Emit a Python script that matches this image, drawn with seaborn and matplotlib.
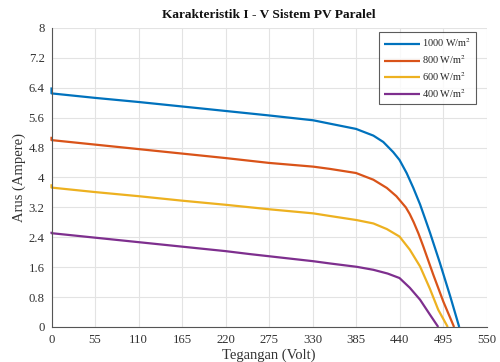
import numpy as np
import pandas as pd
import matplotlib
matplotlib.use("Agg")
import matplotlib.pyplot as plt
import seaborn as sns

# ---- data ----
labels = ["1000 W/m$^2$", "800 W/m$^2$", "600 W/m$^2$", "400 W/m$^2$"]
colors = ["#0072BD", "#D95319", "#EDB120", "#7E2F8E"]

v_1000 = [0, 0, 55, 110, 165, 220, 275, 331, 352, 385, 407, 419.5, 432, 440, 449, 457.5, 466, 472, 478.6, 491, 504, 515.5]
i_1000 = [6.41, 6.25, 6.13, 6.02, 5.90, 5.78, 5.66, 5.53, 5.44, 5.30, 5.12, 4.95, 4.68, 4.47, 4.12, 3.72, 3.28, 2.92, 2.52, 1.72, 0.83, 0.0]

v_800 = [0, 0, 55, 110, 165, 220, 275, 331, 352, 385, 407, 424, 436, 448, 453, 458, 464, 470, 482.7, 495.4, 509]
i_800 = [5.09, 5.00, 4.88, 4.76, 4.64, 4.52, 4.39, 4.29, 4.23, 4.12, 3.94, 3.72, 3.50, 3.20, 3.02, 2.80, 2.50, 2.16, 1.40, 0.68, 0.0]

v_600 = [0, 0, 55, 110, 165, 220, 275, 331, 352, 386, 407, 424, 440, 453, 466, 478.5, 489, 501]
i_600 = [3.82, 3.73, 3.61, 3.50, 3.38, 3.27, 3.15, 3.04, 2.97, 2.86, 2.77, 2.62, 2.42, 2.07, 1.62, 1.02, 0.46, 0.0]

v_400 = [0, 0, 55, 110, 165, 220, 251, 331, 352, 386, 407, 425, 440, 453, 466, 478.5, 489]
i_400 = [2.55, 2.51, 2.39, 2.27, 2.15, 2.03, 1.95, 1.76, 1.70, 1.61, 1.53, 1.43, 1.31, 1.05, 0.73, 0.33, 0.0]

x_ticks = [0, 55, 110, 165, 220, 275, 330, 385, 440, 495, 550]
y_ticks = [0, 0.8, 1.6, 2.4, 3.2, 4, 4.8, 5.6, 6.4, 7.2, 8]
y_tick_labels = ["0", "0.8", "1.6", "2.4", "3.2", "4", "4.8", "5.6", "6.4", "7.2", "8"]

frames = []
for lab, v, i in zip(labels, [v_1000, v_800, v_600, v_400], [i_1000, i_800, i_600, i_400]):
    frames.append(pd.DataFrame({"V": v, "I": i, "G": lab}))
df = pd.concat(frames, ignore_index=True)

sns.set_theme(style="white")
plt.rcParams["font.family"] = ["Liberation Serif", "DejaVu Serif"]
plt.rcParams["mathtext.fontset"] = "stix"

fig = plt.figure(figsize=(5.0, 3.62), dpi=100)
ax = fig.add_axes([0.103, 0.0967, 0.870, 0.826])

sns.lineplot(data=df, x="V", y="I", hue="G", palette=colors, hue_order=labels,
             sort=False, estimator=None, linewidth=1.6, ax=ax)
for ln in ax.get_lines():
    ln.set_clip_on(False)
    ln.set_solid_joinstyle("round")
    ln.set_solid_capstyle("butt")

ax.set_xlim(0, 550)
ax.set_ylim(0, 8)
ax.set_xticks(x_ticks)
ax.set_xticklabels([str(t) for t in x_ticks])
ax.set_yticks(y_ticks)
ax.set_yticklabels(y_tick_labels)
ax.grid(True, color="#e3e3e3", linewidth=0.8)
ax.set_axisbelow(True)
for s in ["top", "right"]:
    ax.spines[s].set_visible(False)
for s in ["left", "bottom"]:
    ax.spines[s].set_color("#555555")
    ax.spines[s].set_linewidth(0.8)
ax.tick_params(direction="in", length=3, width=0.8, color="#555555",
               labelsize=9.2, labelcolor="#333333", pad=5)

ax.set_xlabel("Tegangan (Volt)", fontsize=10.5, color="#333333", labelpad=2)
ax.set_ylabel("Arus (Ampere)", fontsize=10.5, color="#333333", labelpad=2)
ax.set_title("Karakteristik I - V Sistem PV Paralel", fontsize=9.6,
             fontweight="bold", color="#111111", pad=7)

leg = ax.legend(loc="upper right", bbox_to_anchor=(0.976, 0.987), fontsize=7.4,
                frameon=True, fancybox=False, handlelength=3.55, handletextpad=0.2,
                borderpad=0.45, labelspacing=0.38, borderaxespad=0.0)
leg.get_frame().set_edgecolor("#333333")
leg.get_frame().set_linewidth(0.8)
leg.set_title(None)

fig.savefig("out.png", dpi=100)
